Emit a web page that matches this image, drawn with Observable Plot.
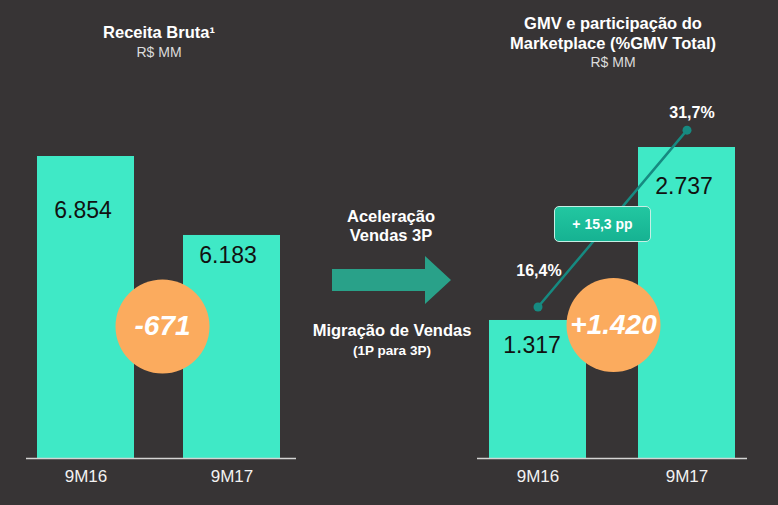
<!DOCTYPE html>
<html>
<head>
<meta charset="utf-8">
<script src="https://cdn.jsdelivr.net/npm/d3@7"></script>
<script src="https://cdn.jsdelivr.net/npm/@observablehq/plot@0.6"></script>
<style>
  html, body { margin: 0; padding: 0; background: #373435; }
  #wrap { position: relative; width: 778px; height: 505px; background: #373435; overflow: hidden;
          font-family: "Liberation Sans", Arial, sans-serif; color: #fff; }
  .abs { position: absolute; transform: translateX(-50%); white-space: nowrap; text-align: center; }
  .title { font-weight: bold; font-size: 16.5px; color: #fff; }
  .sub { font-size: 14px; color: #dcdcdc; }
  .plot { position: absolute; top: 0; }
  #box { position: absolute; box-sizing: border-box; border: 1px solid #c6efe5; border-radius: 5px;
         background: linear-gradient(#22c7a1, #16b292); color: #fff; font-weight: bold; font-size: 14px;
         display: flex; align-items: center; justify-content: center; }
</style>
</head>
<body>
<div id="wrap"></div>
<script>
// ---- data ----
const categories = ["9M16", "9M17"];
const receitaBruta = [6854, 6183];          // R$ MM
const gmv = [1317, 2737];                   // R$ MM
const marketplaceShare = [16.4, 31.7];      // % GMV total
const leftTitle = ["Receita Bruta¹"];
const rightTitle = ["GMV e participação do", "Marketplace (%GMV Total)"];
const unitLabel = "R$ MM";
const middleTop = ["Aceleração", "Vendas 3P"];
const middleBottom = ["Migração de Vendas", "(1P para 3P)"];

// scale settings (the original bars are not zero-based)
const receitaAxis = [4288, 6854];
const gmvAxis = [184, 2737];
const shareAxis = [3.3, 30.2];

const teal = "#3fe9c6";
const orange = "#fbab5e";
const lineTeal = "#168a81";

const loc = d3.formatLocale({decimal: ",", thousands: ".", grouping: [3], currency: ["R$", ""], minus: "-"});
const fmtInt = loc.format(",d");
const fmtSigned = loc.format("+,d");
const fmtPct = loc.format(".1f");

const left = categories.map((c, i) => ({cat: c, v: receitaBruta[i]}));
const right = categories.map((c, i) => ({cat: c, v: gmv[i], pct: marketplaceShare[i]}));
const leftDiff = receitaBruta[1] - receitaBruta[0];
const rightDiff = gmv[1] - gmv[0];
const shareDiff = marketplaceShare[1] - marketplaceShare[0];

const pctToY = d3.scaleLinear().domain(shareAxis).range(gmvAxis);

const font = '"Liberation Sans", Arial, sans-serif';
const baseStyle = {background: "transparent", color: "#f2f2f2", fontFamily: font, overflow: "visible"};

const wrap = document.getElementById("wrap");

// ---- left chart ----
const leftPlot = Plot.plot({
  width: 322, height: 505,
  marginLeft: 26, marginRight: 26, marginTop: 156, marginBottom: 47,
  style: baseStyle,
  x: {domain: categories, paddingInner: 0.336, paddingOuter: 0.0925, align: 0.41},
  y: {domain: receitaAxis, axis: null},
  marks: [
    Plot.barY(left, {x: "cat", y1: () => receitaAxis[0], y2: "v", fill: teal}),
    Plot.ruleY([receitaAxis[0]], {stroke: "#d4d4d4", strokeWidth: 1.5}),
    Plot.axisX({tickSize: 0, tickPadding: 11, fontSize: 17, fill: "#f2f2f2", label: null}),
    Plot.text(left.filter(d => d.cat === categories[0]), {x: "cat", y: "v", text: d => fmtInt(d.v), dy: 54, dx: -3, fontSize: 23, fill: "#111"}),
    Plot.text(left.filter(d => d.cat === categories[1]), {x: "cat", y: "v", text: d => fmtInt(d.v), dy: 20, dx: -4, fontSize: 23, fill: "#111"}),
    Plot.dot([leftDiff], {frameAnchor: "middle", dx: 1, dy: 19, r: 47, fill: orange}),
    Plot.text([leftDiff], {frameAnchor: "middle", dx: 1, dy: 19, text: d => fmtSigned(d), fontSize: 28, fontWeight: "bold", fontStyle: "italic", fill: "#fff"})
  ]
});
leftPlot.classList.add("plot");
leftPlot.style.left = "0px";
wrap.appendChild(leftPlot);

// ---- right chart ----
const rightPlot = Plot.plot({
  width: 322, height: 505,
  marginLeft: 26, marginRight: 26, marginTop: 147, marginBottom: 47,
  style: baseStyle,
  x: {domain: categories, paddingInner: 0.349, paddingOuter: 0.0805},
  y: {domain: gmvAxis, axis: null},
  marks: [
    Plot.barY(right, {x: "cat", y1: () => gmvAxis[0], y2: "v", fill: teal}),
    Plot.ruleY([gmvAxis[0]], {stroke: "#d4d4d4", strokeWidth: 1.5}),
    Plot.axisX({tickSize: 0, tickPadding: 11, fontSize: 17, fill: "#f2f2f2", label: null}),
    Plot.text(right.filter(d => d.cat === categories[0]), {x: "cat", y: "v", text: d => fmtInt(d.v), dy: 25, dx: -6, fontSize: 23, fill: "#111"}),
    Plot.text(right.filter(d => d.cat === categories[1]), {x: "cat", y: "v", text: d => fmtInt(d.v), dy: 39, dx: -3, fontSize: 23, fill: "#111"}),
    Plot.line(right, {x: "cat", y: d => pctToY(d.pct), stroke: lineTeal, strokeWidth: 2.5}),
    Plot.dot(right, {x: "cat", y: d => pctToY(d.pct), r: 4.5, fill: lineTeal}),
    Plot.text(right.filter(d => d.cat === categories[0]), {x: "cat", y: d => pctToY(d.pct), text: d => fmtPct(d.pct) + "%", dy: -36, dx: 1, fontSize: 16, fontWeight: "bold", fill: "#fff"}),
    Plot.text(right.filter(d => d.cat === categories[1]), {x: "cat", y: d => pctToY(d.pct), text: d => fmtPct(d.pct) + "%", dy: -17, dx: 5, fontSize: 16, fontWeight: "bold", fill: "#fff"}),
    Plot.dot([rightDiff], {frameAnchor: "middle", dx: 1, dy: 22, r: 47, fill: orange}),
    Plot.text([rightDiff], {frameAnchor: "middle", dx: 1, dy: 22, text: d => fmtSigned(d), fontSize: 28, fontWeight: "bold", fontStyle: "italic", fill: "#fff"})
  ]
});
rightPlot.classList.add("plot");
rightPlot.style.left = "451px";
wrap.appendChild(rightPlot);

// ---- change box ----
const box = document.createElement("div");
box.id = "box";
box.style.left = "554px"; box.style.top = "206px"; box.style.width = "97px"; box.style.height = "36px";
box.textContent = "+ " + fmtPct(shareDiff) + " pp";
wrap.appendChild(box);

// ---- titles & middle texts ----
function addText(lines, cx, cy, cls, lh, extra) {
  const el = document.createElement("div");
  el.className = "abs " + cls;
  el.style.left = cx + "px";
  el.style.top = (cy - lines.length * lh / 2) + "px";
  el.style.lineHeight = lh + "px";
  if (extra) el.style.cssText += extra;
  el.innerHTML = lines.join("<br>");
  wrap.appendChild(el);
}
addText(leftTitle, 159, 32, "title", 20);
addText([unitLabel], 159, 52, "sub", 16);
addText(rightTitle, 613, 33, "title", 20);
addText([unitLabel], 613, 62, "sub", 16);
addText(middleTop, 391, 226, "title", 19);
addText([middleBottom[0]], 392, 330, "title", 20);
addText([middleBottom[1]], 392, 351, "title", 16, "font-size:13.5px;");

// ---- arrow (decoration) ----
const ns = "http://www.w3.org/2000/svg";
const arr = document.createElementNS(ns, "svg");
arr.setAttribute("width", 120); arr.setAttribute("height", 50);
arr.style.position = "absolute"; arr.style.left = "332px"; arr.style.top = "255px";
const poly = document.createElementNS(ns, "polygon");
poly.setAttribute("points", "0,14 93,14 93,1 119,25 93,49 93,36 0,36");
poly.setAttribute("fill", "#29a189");
arr.appendChild(poly);
wrap.appendChild(arr);
</script>
</body>
</html>
